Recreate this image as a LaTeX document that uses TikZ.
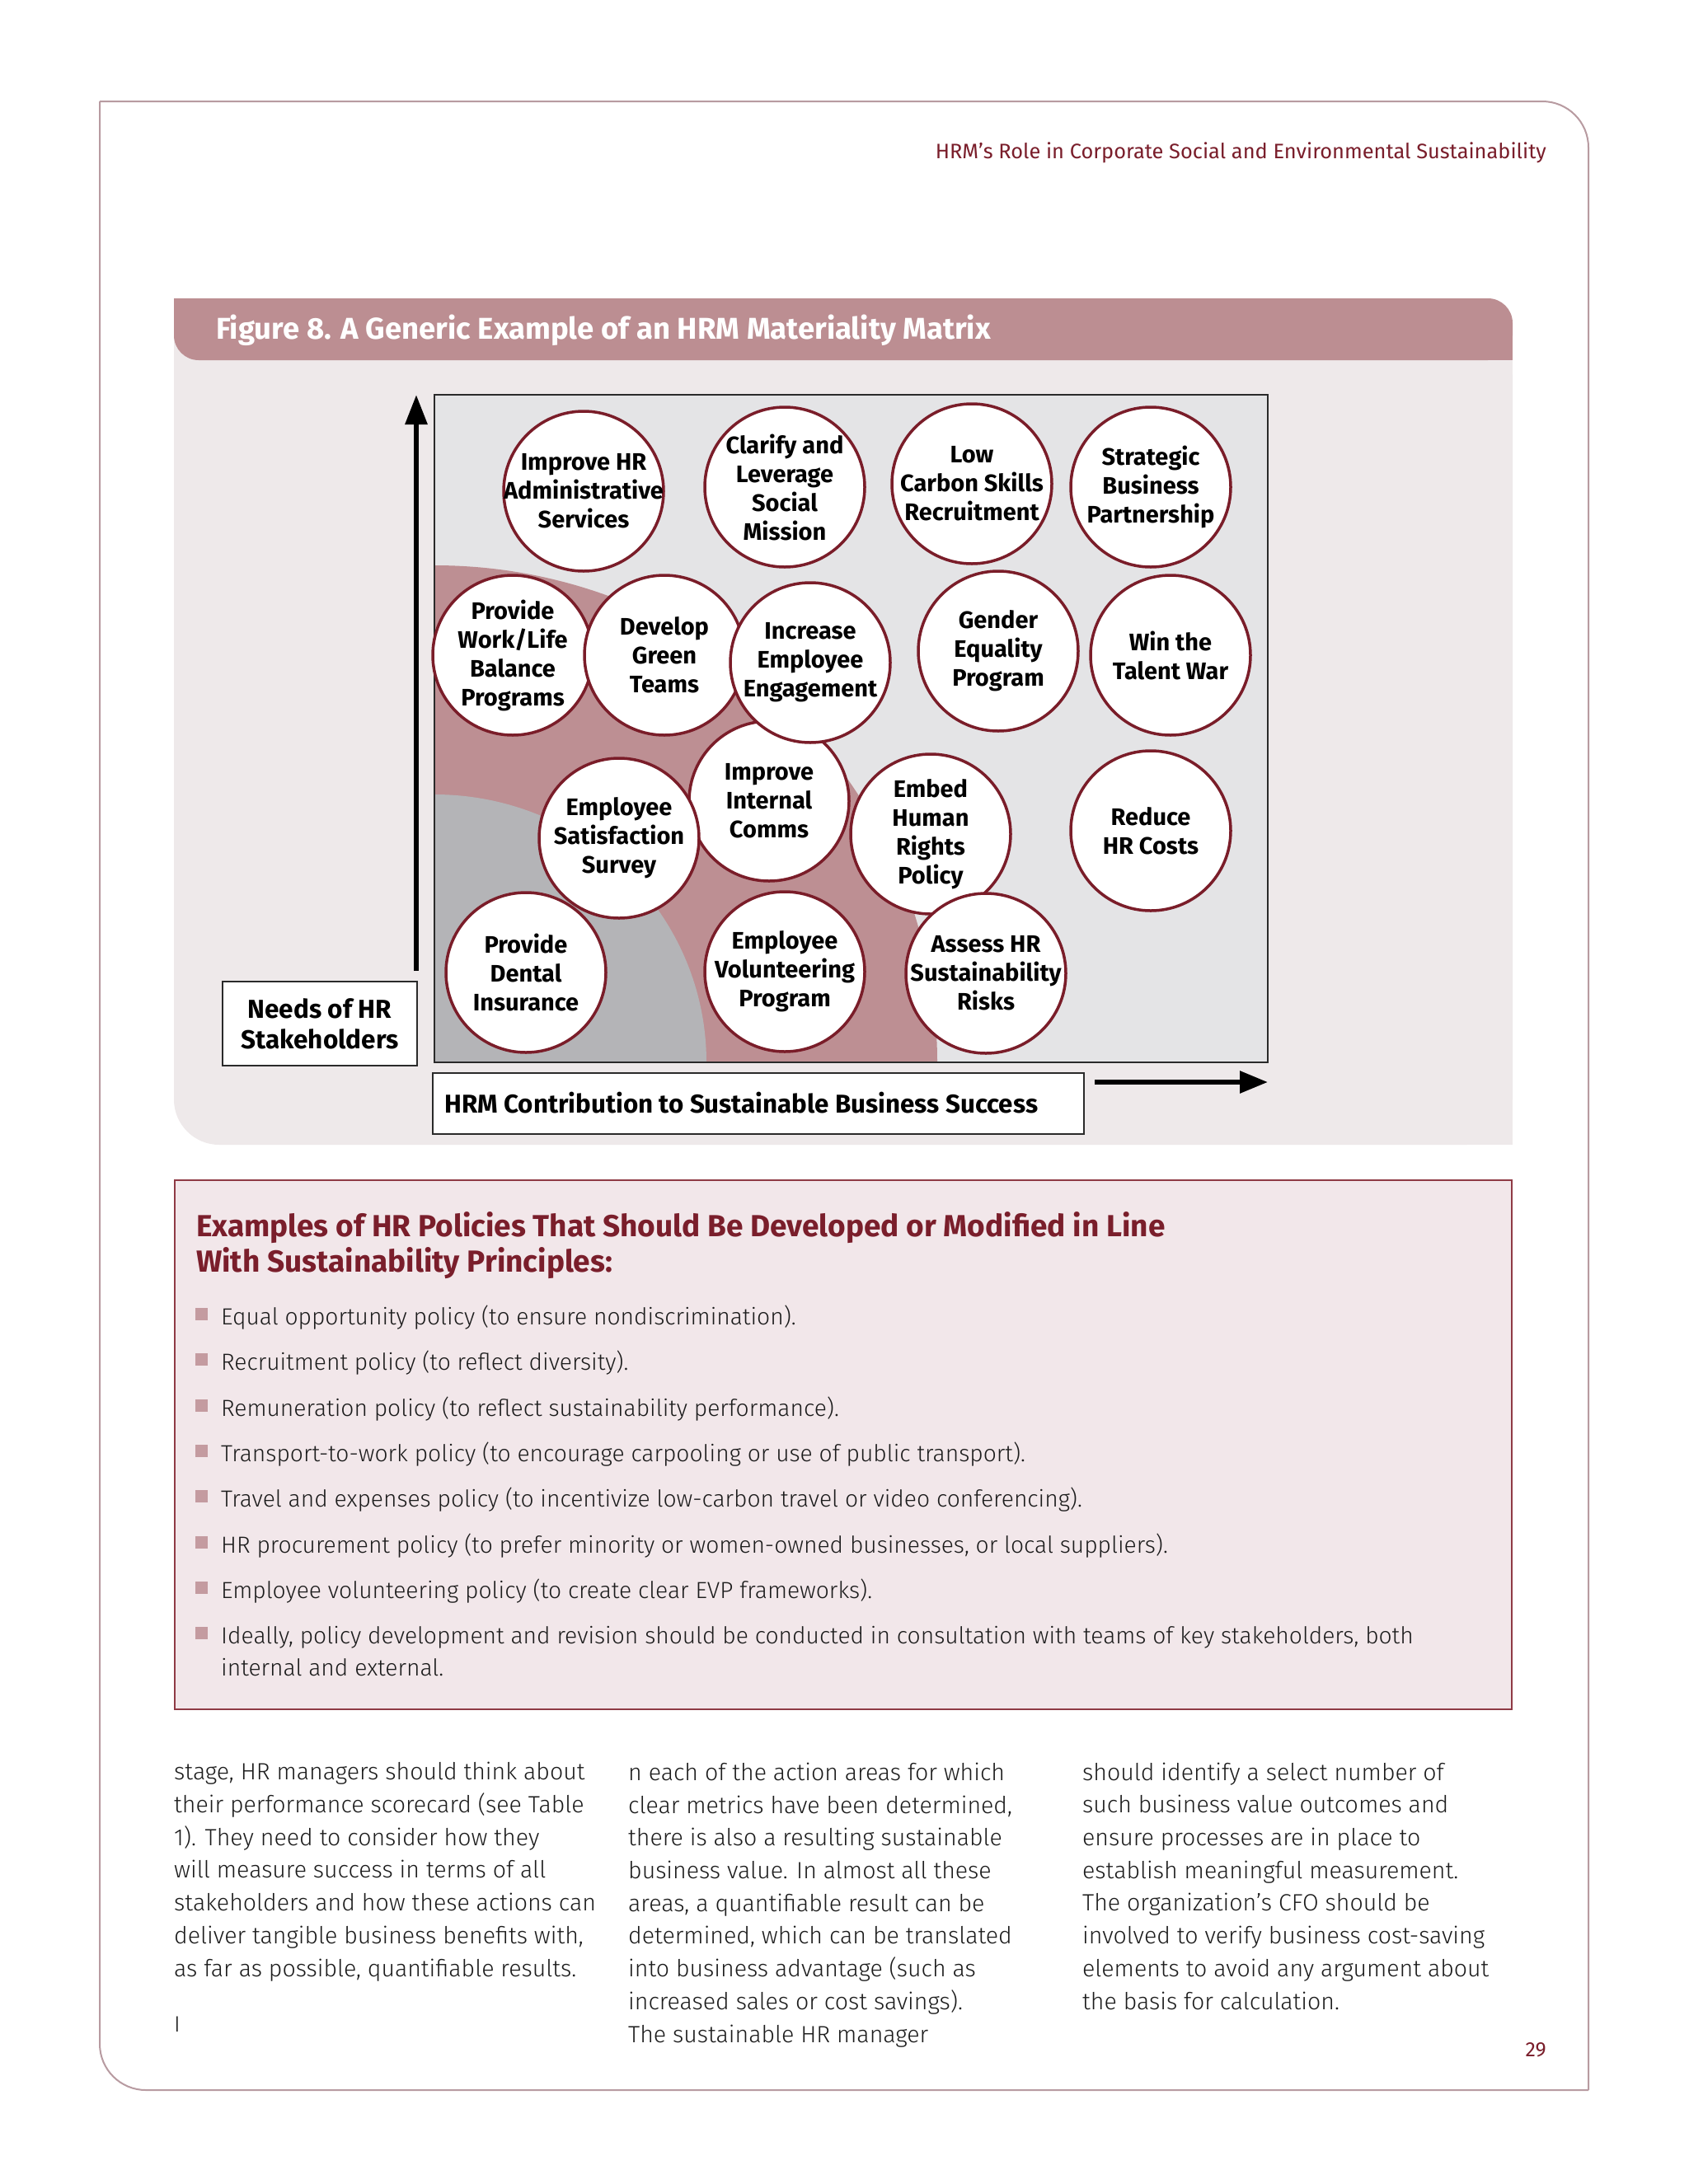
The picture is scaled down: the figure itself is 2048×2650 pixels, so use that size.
\documentclass[tikz,border=0pt]{standalone}
\usepackage{fontspec}
\setmainfont{Fira Sans}
\newfontfamily\lightf{Fira Sans Light}
\usetikzlibrary{arrows.meta}
\definecolor{framec}{HTML}{B89BA1}
\definecolor{hdrred}{HTML}{7A1E2B}
\definecolor{titlec}{HTML}{BC8E92}
\definecolor{panelc}{HTML}{EEE9EA}
\definecolor{matfill}{HTML}{E4E4E6}
\definecolor{matline}{HTML}{2A2A2A}
\definecolor{mauve}{HTML}{BD8F93}
\definecolor{greyq}{HTML}{B4B4B7}
\definecolor{bubline}{HTML}{7A1D29}
\definecolor{exfill}{HTML}{F2E7EA}
\definecolor{exline}{HTML}{8F3A45}
\definecolor{bulc}{HTML}{C49BA0}
\definecolor{bodyc}{HTML}{1C1C1C}
\begin{document}
\begin{tikzpicture}[x=1pt,y=-1pt,
  bub/.style={circle, draw=bubline, line width=3.5pt, fill=white, minimum size=194pt, inner sep=0pt},
  btxt/.style={align=center, inner sep=0pt, text=black, font=\bfseries\fontsize{29}{35}\selectfont},
  lbox/.style={draw=matline, line width=2.5pt, fill=white, inner sep=0pt},
  ltxt/.style={align=center, inner sep=0pt, text=black, font=\bfseries\fontsize{31.5}{37}\selectfont},
  bullet/.style={anchor=base west, inner sep=0pt, text=bodyc, font=\lightf\fontsize{28.2}{39}\selectfont},
  bodyt/.style={anchor=base west, inner sep=0pt, text=bodyc, font=\lightf\fontsize{28.5}{39.7}\selectfont, align=left},
  axis/.style={line width=6pt, draw=black}
]
\useasboundingbox (0,0) rectangle (2048,2650);
\fill[white] (0,0) rectangle (2048,2650);

% page frame
\draw[framec, line width=2pt, rounded corners=56pt] (121,123) -- (1927,123) -- (1927,2536);
\draw[framec, line width=2pt, rounded corners=56pt] (1927,2536) -- (121,2536) -- (121,123);

% header
\node[anchor=base east, inner sep=0pt, text=hdrred, font=\fontsize{25.4}{28}\selectfont] (hdr) at (1876,192)
  {HRM’s Role in Corporate Social and Environmental Sustainability};

% figure panel
\fill[panelc, rounded corners=55pt] (211,400) rectangle (1835,1389);
\fill[panelc] (211,400) rectangle (320,520);
\fill[panelc] (1720,400) rectangle (1835,520);
\fill[panelc] (1720,1280) rectangle (1835,1389);
% title bar
\fill[titlec, rounded corners=30pt] (211,362) rectangle (1835,437);
\fill[titlec] (211,362) rectangle (280,400);
\fill[titlec] (1760,400) rectangle (1835,437);
\node[anchor=base west, inner sep=0pt, text=white, font=\bfseries\fontsize{36.5}{40}\selectfont] (ttl) at (262,411)
  {Figure 8. A Generic Example of an HRM Materiality Matrix};

% matrix area
\fill[matfill] (527,479) rectangle (1538,1289);
\begin{scope}
  \clip (527,479) rectangle (1538,1289);
  \fill[mauve] (527,1289) ellipse [x radius=610, y radius=603];
  \fill[greyq] (527,1289) ellipse [x radius=330, y radius=325];
\end{scope}
\draw[matline, line width=2.5pt] (527,479) rectangle (1538,1289);

% bubbles
\node[bub] (ihr) at (708,596) {};
\node[btxt] (ihrt) at (ihr) {Improve HR\\Administrative\\Services};
\node[bub] (cls) at (952,591) {};
\node[btxt] (clst) at (cls) {Clarify and\\Leverage\\Social\\Mission};
\node[bub] (lcs) at (1179,587) {};
\node[btxt] (lcst) at (lcs) {Low\\Carbon Skills\\Recruitment};
\node[bub] (sbp) at (1396,591) {};
\node[btxt] (sbpt) at (sbp) {Strategic\\Business\\Partnership};
\node[bub] (wlb) at (622,795) {};
\node[btxt] (wlbt) at (wlb) {Provide\\Work/Life\\Balance\\Programs};
\node[bub] (dgt) at (806,795) {};
\node[btxt] (dgtt) at (dgt) {Develop\\Green\\Teams};
\node[bub] (gep) at (1211,790) {};
\node[btxt] (gept) at (gep) {Gender\\Equality\\Program};
\node[bub] (wtw) at (1420,795) {};
\node[btxt] (wtwt) at (wtw) {Win the\\Talent War};
\node[bub] (iic) at (933,972) {};
\node[btxt] (iict) at (iic) {Improve\\Internal\\Comms};
\node[bub] (iee) at (983,804) {};
\node[btxt] (ieet) at (iee) {Increase\\Employee\\Engagement};
\node[bub] (pdi) at (638,1180) {};
\node[btxt] (pdit) at (pdi) {Provide\\Dental\\Insurance};
\node[bub] (ess) at (751,1017) {};
\node[btxt] (esst) at (ess) {Employee\\Satisfaction\\Survey};
\node[bub] (ehr) at (1129,1012) {};
\node[btxt] (ehrt) at (ehr) {Embed\\Human\\Rights\\Policy};
\node[bub] (rhc) at (1396,1008) {};
\node[btxt] (rhct) at (rhc) {Reduce\\HR Costs};
\node[bub] (evp) at (952,1179) {};
\node[btxt] (evpt) at (evp) {Employee\\Volunteering\\Program};
\node[bub] (ahr) at (1196,1181) {};
\node[btxt] (ahrt) at (ahr) {Assess HR\\Sustainability\\Risks};

% axes
\coordinate (vbot) at (505,1178);
\coordinate (vtop) at (505,479);
\draw[axis, -{Triangle[length=36pt,width=26pt]}] (vbot) -- (vtop);
\coordinate (hleft) at (1328,1313);
\coordinate (hright) at (1538,1313);
\draw[axis, -{Triangle[length=34pt,width=26pt]}] (hleft) -- (hright);

% axis labels
\node[lbox, minimum width=236pt, minimum height=102pt] (needs) at (388,1242) {};
\node[ltxt] (needst) at (needs) {Needs of HR\\Stakeholders};
\node[lbox, minimum width=790pt, minimum height=74pt] (hrmc) at (920,1339) {};
\node[anchor=base west, inner sep=0pt, text=black, font=\bfseries\fontsize{31.3}{35}\selectfont] (hrmct) at (539,1350)
  {HRM Contribution to Sustainable Business Success};

% examples box
\filldraw[fill=exfill, draw=exline, line width=2.5pt] (212,1432) rectangle (1834,2074);
\node[anchor=base west, inner sep=0pt, text=hdrred, font=\bfseries\fontsize{37}{43}\selectfont] (ex1) at (238,1500)
  {Examples of HR Policies That Should Be Developed or Modified in Line};
\node[anchor=base west, inner sep=0pt, text=hdrred, font=\bfseries\fontsize{37}{43}\selectfont] (ex2) at (238,1543)
  {With Sustainability Principles:};

\foreach \b in {1607,1662,1718,1773,1828,1884,1939,1994}
  \fill[bulc] (237,\b-20) rectangle (252,\b-5);
\node[bullet] (b1) at (268,1607) {Equal opportunity policy (to ensure nondiscrimination).};
\node[bullet] (b2) at (268,1662) {Recruitment policy (to reflect diversity).};
\node[bullet] (b3) at (268,1718) {Remuneration policy (to reflect sustainability performance).};
\node[bullet] (b4) at (268,1773) {Transport-to-work policy (to encourage carpooling or use of public transport).};
\node[bullet] (b5) at (268,1828) {Travel and expenses policy (to incentivize low-carbon travel or video conferencing).};
\node[bullet] (b6) at (268,1884) {HR procurement policy (to prefer minority or women-owned businesses, or local suppliers).};
\node[bullet] (b7) at (268,1939) {Employee volunteering policy (to create clear EVP frameworks).};
\node[bullet] (b8) at (268,1994) {Ideally, policy development and revision should be conducted in consultation with teams of key stakeholders, both};
\node[bullet] (b9) at (268,2033) {internal and external.};

% body columns (base anchor = baseline of last line)
\node[bodyt] (c1) at (211,2398) {stage, HR managers should think about\\their performance scorecard (see Table\\1). They need to consider how they\\will measure success in terms of all\\stakeholders and how these actions can\\deliver tangible business benefits with,\\as far as possible, quantifiable results.};
\node[bodyt] (c2) at (762,2478) {n each of the action areas for which\\clear metrics have been determined,\\there is also a resulting sustainable\\business value. In almost all these\\areas, a quantifiable result can be\\determined, which can be translated\\into business advantage (such as\\increased sales or cost savings).\\The sustainable HR manager};
\node[bodyt] (c3) at (1313,2438) {should identify a select number of\\such business value outcomes and\\ensure processes are in place to\\establish meaningful measurement.\\The organization’s CFO should be\\involved to verify business cost-saving\\elements to avoid any argument about\\the basis for calculation.};
\node[anchor=base west, inner sep=0pt, text=bodyc, font=\lightf\fontsize{27}{30}\selectfont] (cur) at (211,2465) {I};
\node[anchor=base east, inner sep=0pt, text=hdrred, font=\fontsize{25}{28}\selectfont] (pg) at (1876,2495) {29};
\end{tikzpicture}
\end{document}
